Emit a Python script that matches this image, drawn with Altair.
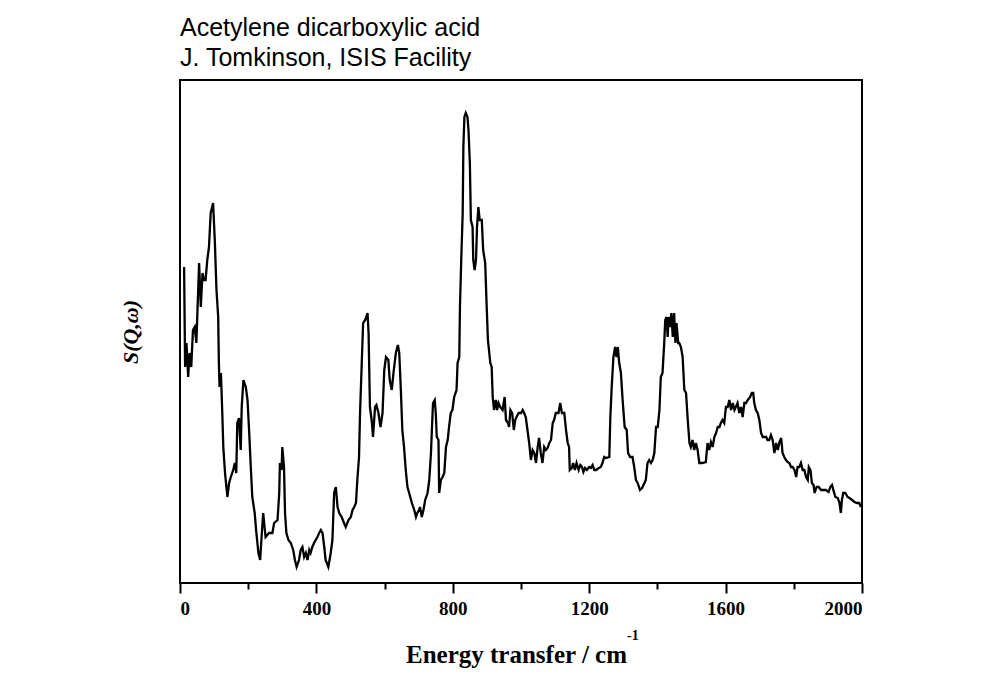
import altair as alt
import pandas as pd

# INS spectrum of acetylene dicarboxylic acid (arbitrary intensity units)
energy = [
    12, 15, 19, 24, 28, 33, 38, 43, 48, 51, 56, 61, 66, 70, 75, 80, 85, 90, 97, 102,
    107, 112, 114, 116, 120, 124, 127, 132, 139, 144, 149, 156, 161, 165, 168, 173, 178, 181, 186, 193,
    198, 203, 207, 212, 219, 224, 230, 235, 240, 244, 248, 251, 261, 271, 276, 286, 291, 293, 298, 300,
    305, 308, 312, 318, 325, 332, 337, 342, 349, 354, 359, 364, 369, 374, 379, 383, 388, 393, 398, 403,
    408, 413, 418, 423, 427, 435, 442, 447, 452, 457, 462, 467, 474, 481, 486, 494, 501, 506, 511, 516,
    520, 525, 528, 533, 537, 543, 550, 553, 557, 562, 566, 572, 576, 582, 588, 594, 599, 604, 611, 615,
    621, 626, 633, 639, 643, 648, 652, 657, 662, 667, 672, 680, 687, 692, 696, 701, 704, 709, 714, 719,
    726, 731, 736, 739, 742, 747, 750, 753, 758, 760, 765, 770, 775, 780, 785, 789, 794, 799, 804, 811,
    814, 819, 821, 825, 829, 831, 834, 838, 843, 846, 850, 853, 858, 860, 864, 868, 871, 873, 875, 879,
    885, 889, 895, 899, 903, 907, 910, 914, 917, 921, 926, 930, 934, 939, 946, 952, 956, 962, 965, 969,
    974, 979, 983, 987, 993, 1000, 1005, 1009, 1014, 1019, 1024, 1029, 1034, 1039, 1044, 1049, 1053, 1058, 1063, 1068,
    1073, 1078, 1083, 1088, 1093, 1097, 1102, 1110, 1115, 1120, 1127, 1132, 1137, 1141, 1143, 1149, 1153, 1158, 1163, 1169,
    1174, 1179, 1183, 1188, 1193, 1200, 1205, 1210, 1215, 1220, 1228, 1234, 1239, 1244, 1249, 1259, 1262, 1266, 1271, 1276,
    1280, 1284, 1288, 1293, 1298, 1304, 1310, 1314, 1320, 1327, 1332, 1337, 1342, 1349, 1355, 1362, 1366, 1371, 1376, 1381,
    1386, 1391, 1396, 1401, 1406, 1410, 1415, 1420, 1423, 1427, 1430, 1433, 1437, 1441, 1445, 1449, 1453, 1456, 1461, 1464,
    1469, 1474, 1479, 1484, 1489, 1494, 1498, 1503, 1508, 1513, 1518, 1523, 1531, 1542, 1547, 1552, 1557, 1562, 1567, 1572,
    1577, 1582, 1586, 1591, 1596, 1601, 1606, 1611, 1616, 1621, 1626, 1630, 1635, 1640, 1645, 1650, 1655, 1660, 1665, 1672,
    1677, 1681, 1684, 1689, 1694, 1699, 1704, 1709, 1714, 1719, 1723, 1728, 1733, 1738, 1743, 1748, 1753, 1758, 1763, 1767,
    1772, 1777, 1782, 1787, 1792, 1797, 1802, 1807, 1811, 1816, 1821, 1826, 1831, 1836, 1841, 1844, 1849, 1853, 1858, 1861,
    1867, 1873, 1880, 1885, 1894, 1902, 1907, 1912, 1916, 1922, 1929, 1934, 1938, 1941, 1945, 1951, 1958, 1963, 1971, 1978,
    1985, 1992, 1997,
]
intensity = [
    315, 215, 239, 205, 229, 215, 252, 255, 239, 269, 319, 275, 309, 302, 302, 322, 335, 369, 379, 342,
    292, 265, 219, 195, 209, 169, 135, 109, 85, 99, 105, 112, 119, 109, 159, 164, 132, 175, 202, 195,
    182, 149, 119, 85, 69, 49, 29, 22, 49, 69, 55, 45, 49, 49, 59, 62, 89, 119, 112, 135,
    115, 69, 49, 42, 39, 32, 22, 15, 22, 32, 35, 25, 29, 22, 32, 29, 35, 39, 42, 45,
    49, 52, 49, 35, 22, 15, 29, 42, 89, 95, 75, 69, 65, 59, 55, 62, 65, 72, 75, 79,
    102, 125, 169, 219, 259, 262, 269, 249, 175, 162, 145, 175, 177, 169, 155, 169, 212, 225, 222, 202,
    192, 209, 229, 237, 229, 189, 152, 135, 112, 95, 89, 79, 72, 65, 69, 72, 75, 65, 72, 82,
    89, 102, 129, 155, 179, 182, 169, 145, 142, 89, 102, 105, 109, 135, 142, 155, 169, 172, 185, 192,
    219, 225, 275, 325, 369, 435, 465, 469, 465, 452, 419, 362, 355, 322, 312, 322, 355, 365, 375, 362,
    362, 332, 319, 279, 242, 229, 219, 215, 185, 172, 182, 172, 179, 175, 172, 185, 162, 159, 155, 172,
    169, 152, 162, 165, 169, 169, 172, 169, 165, 152, 139, 122, 132, 129, 119, 135, 144, 129, 119, 135,
    132, 134, 139, 142, 159, 162, 169, 169, 179, 169, 169, 152, 139, 135, 112, 114, 119, 112, 119, 112,
    117, 115, 110, 114, 112, 115, 114, 117, 112, 112, 114, 115, 119, 125, 124, 125, 165, 195, 225, 235,
    225, 235, 219, 209, 182, 155, 152, 129, 125, 125, 115, 102, 99, 92, 94, 99, 102, 119, 122, 119,
    122, 129, 155, 155, 172, 205, 209, 239, 262, 265, 245, 265, 255, 269, 245, 269, 239, 259, 239, 239,
    235, 225, 192, 189, 162, 139, 135, 142, 132, 139, 132, 119, 119, 120, 139, 132, 140, 135, 145, 149,
    155, 155, 159, 162, 159, 175, 175, 182, 172, 179, 172, 175, 179, 169, 175, 165, 179, 179, 182, 185,
    189, 189, 179, 172, 169, 162, 149, 145, 145, 145, 142, 142, 147, 142, 129, 139, 132, 140, 144, 129,
    125, 122, 120, 119, 115, 115, 112, 105, 115, 115, 119, 112, 112, 105, 102, 115, 112, 99, 97, 89,
    95, 95, 92, 92, 92, 90, 95, 97, 92, 85, 84, 79, 69, 82, 89, 89, 85, 84, 82, 80,
    79, 79, 75,
]
title_lines = ["Acetylene dicarboxylic acid", "J. Tomkinson, ISIS Facility"]
x_ticks = [0, 200, 400, 600, 800, 1000, 1200, 1400, 1600, 1800, 2000]

SERIF = "Liberation Serif"
SANS = "Liberation Sans"

df = pd.DataFrame({"energy": energy, "intensity": intensity})

line = alt.Chart(df).mark_line(color="black", strokeWidth=2.3).encode(
    x=alt.X("energy:Q",
            scale=alt.Scale(domain=[0, 2000], nice=False, zero=False),
            axis=alt.Axis(values=x_ticks, grid=False, domain=False,
                          labelExpr="datum.value % 400 === 0 ? datum.label : ''",
                          format="d",
                          tickSize={"condition": {"test": "datum.value % 400 === 0", "value": 10},
                                    "value": 6},
                          tickColor="black", tickWidth=2,
                          labelFont=SERIF, labelFontWeight="bold", labelFontSize=19,
                          labelColor="black", labelPadding=6,
                          title="Energy transfer / cm", titleFont=SERIF, titleFontWeight="bold",
                          titleFontSize=25, titleColor="black", titleBaseline="alphabetic",
                          titleX=336, titleY=79)),
    y=alt.Y("intensity:Q",
            scale=alt.Scale(domain=[-1, 502], nice=False, zero=False),
            axis=alt.Axis(labels=False, ticks=False, grid=False, domain=False,
                          title="S(Q,ω)", titleFont=SERIF, titleFontWeight="bold",
                          titleFontStyle="italic", titleFontSize=22, titleColor="black",
                          titlePadding=38)),
)

sup = alt.Chart(pd.DataFrame({"t": ["-1"]})).mark_text(
    font=SERIF, fontWeight="bold", fontSize=14, align="left", baseline="alphabetic", color="black"
).encode(x=alt.value(447), y=alt.value(560), text="t:N")

chart = (line + sup).properties(
    width=682, height=503,
    autosize=alt.AutoSizeParams(type="none"),
    padding={"left": 172, "top": 72, "right": 130, "bottom": 105},
    title=alt.TitleParams(title_lines, anchor="start", frame="group", font=SANS,
                          fontSize=25, fontWeight="normal", color="black",
                          lineHeight=30, offset=12, dy=28, baseline="bottom"),
).configure_view(stroke="black", strokeWidth=2)

chart.save("out.html", embed_options={"renderer": "svg", "actions": False})
